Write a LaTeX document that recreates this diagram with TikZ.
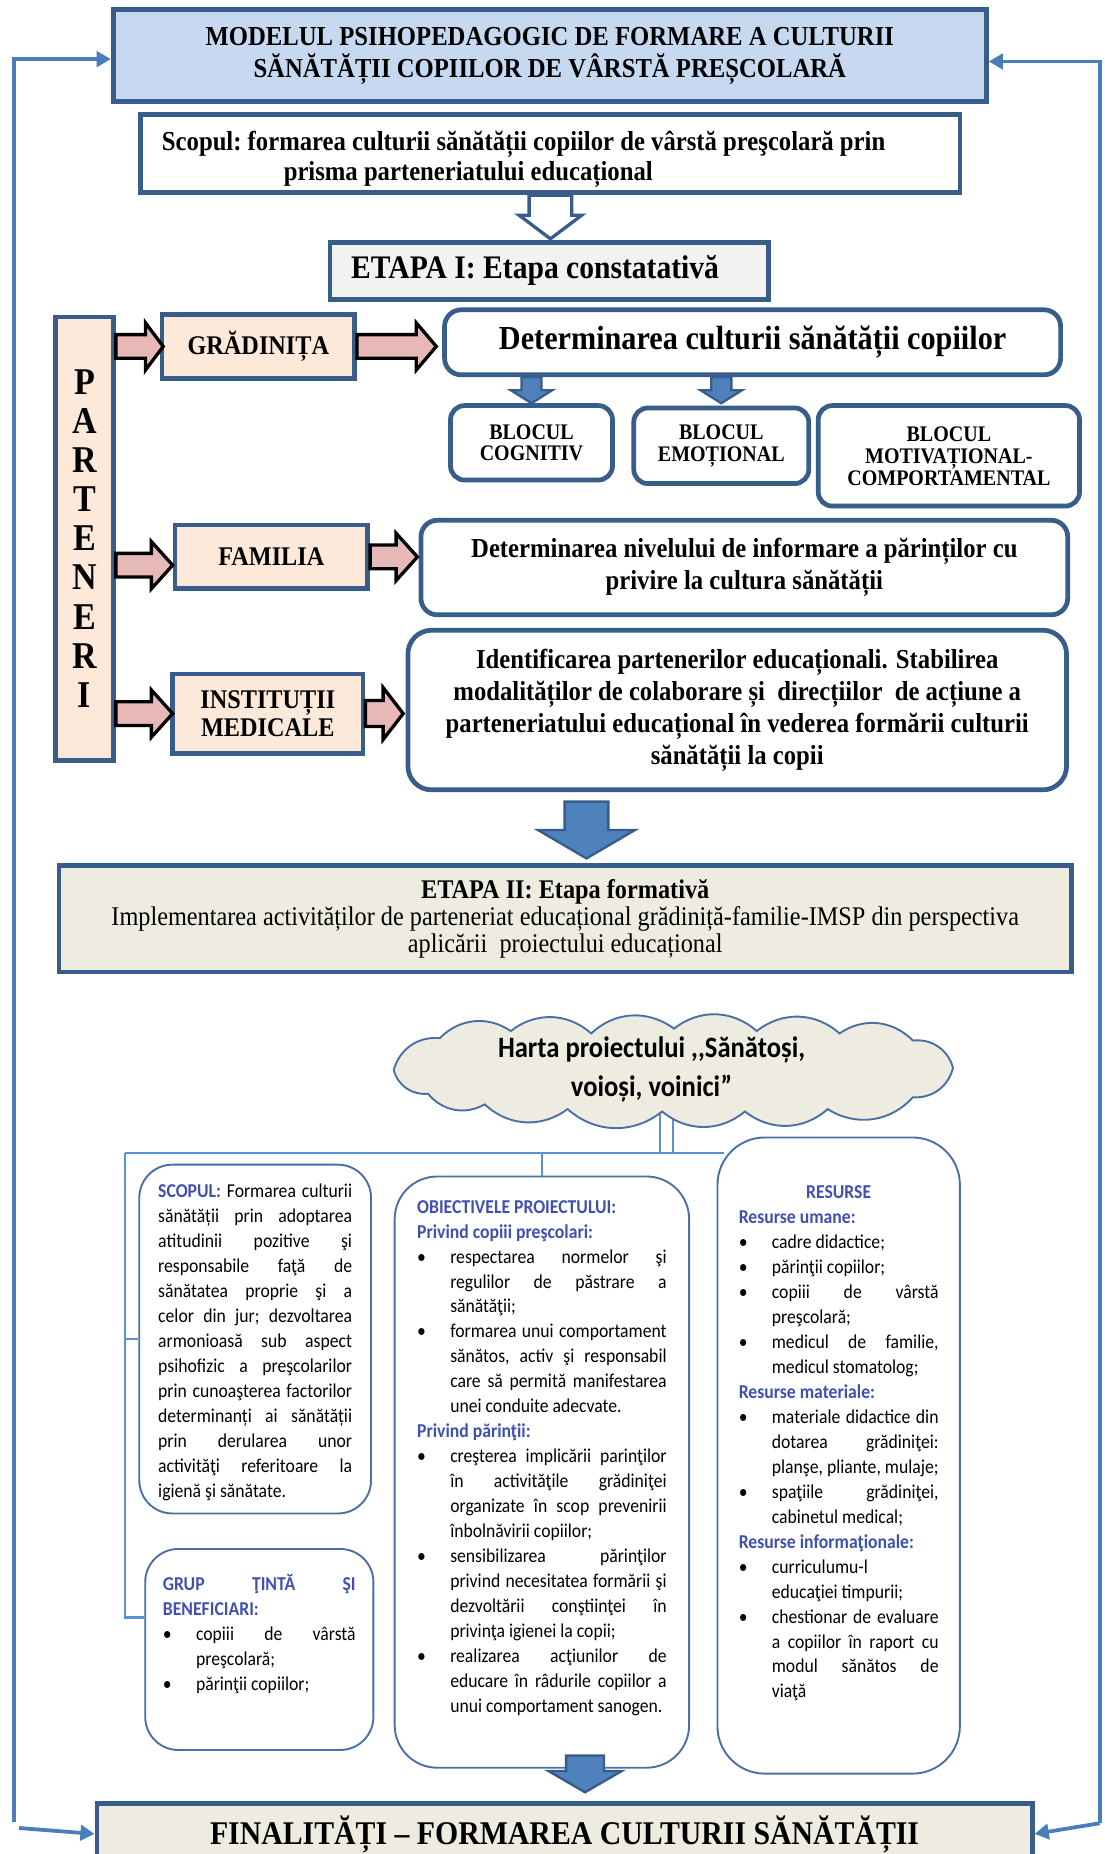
\documentclass[tikz,border=0pt]{standalone}
\usepackage{fontspec}
\setmainfont{Liberation Serif}[FakeStretch=0.9]
\newfontfamily\carlito{Carlito}[FakeStretch=0.9]
\usetikzlibrary{arrows.meta,calc,backgrounds}

\definecolor{dkblue}{HTML}{385D8A}
\definecolor{ttlfill}{HTML}{C6D9F1}
\definecolor{grayfill}{HTML}{F2F2F2}
\definecolor{peach}{HTML}{FDE9D9}
\definecolor{pinkfill}{HTML}{E6B9B8}
\definecolor{beige}{HTML}{EEECE1}
\definecolor{midblue}{HTML}{4F81BD}
\definecolor{softblue}{HTML}{4A6FA5}
\definecolor{linkblue}{HTML}{5B8FD6}
\definecolor{fbblue}{HTML}{4A7EBB}
\definecolor{txtblue}{HTML}{4050B0}

% block arrows: style, tail point, shaft half, shaft length, head half, head length
\newcommand{\blockright}[6]{\draw[#1, shift={(#2)}] (0,-#3) -- (#4,-#3) -- (#4,-#5) -- (#4+#6,0) -- (#4,#5) -- (#4,#3) -- (0,#3) -- cycle;}
\newcommand{\blockdown}[6]{\draw[#1, shift={(#2)}] (-#3,0) -- (-#3,#4) -- (-#5,#4) -- (0,#4+#6) -- (#5,#4) -- (#3,#4) -- (#3,0) -- cycle;}

% justified lines and bullets for the project map
\newlength{\bulletind}
\setlength{\bulletind}{14pt}
\newcommand{\natsp}{\frenchspacing\spaceskip=0pt\xspaceskip=0pt\relax}
\newcommand{\jline}[1]{\makebox[\linewidth][s]{#1}}
\newcommand{\bitem}[2][s]{\makebox[\bulletind][l]{\textbullet}\makebox[\dimexpr\linewidth-\bulletind\relax][#1]{#2}}
\newcommand{\bcont}[2][s]{\hspace*{\bulletind}\makebox[\dimexpr\linewidth-\bulletind\relax][#1]{#2}}
\newcommand{\hdr}[1]{\textcolor{txtblue}{\bfseries #1}}

\begin{document}
\begin{tikzpicture}
        [x=0.5pt, y=-0.5pt,
        frame/.style={draw=dkblue, line width=2pt, inner sep=0pt, align=center},
        rframe/.style={frame, rounded corners=7pt},
        partner/.style={frame, fill=peach, minimum width=81.5pt, minimum height=27pt, font=\fontsize{11.4}{12}\selectfont\bfseries},
        block/.style={rframe, rounded corners=6pt, font=\fontsize{9.4}{9.3}\selectfont\bfseries},
        bigtext/.style={font=\fontsize{11.6}{13.5}\selectfont\bfseries},
        soft/.style={draw=softblue, line width=0.8pt, fill=white, rounded corners=14pt, anchor=base west, inner ysep=0pt, align=left, execute at begin node=\natsp, font=\carlito\fontsize{8.3}{10.55}\selectfont},
        cloudline/.style={draw=softblue, fill=beige, line width=0.8pt},
        link/.style={draw=linkblue, line width=0.9pt},
        fback/.style={draw=fbblue, line width=1.6pt, -{Triangle[length=6pt, width=6.5pt]}},
        pinkarr/.style={fill=pinkfill, draw=black, line width=1.4pt},
        bluearr/.style={fill=midblue, draw=dkblue, line width=1pt},
        hollowarr/.style={fill=white, draw=dkblue, line width=1.4pt}]

        \begin{pgfonlayer}{background}
          \fill[white] (0,0) rectangle (934,1568);
        \end{pgfonlayer}
        \path[use as bounding box] (0,0) rectangle (934,1568);

        % stage I
        \node[frame, fill=ttlfill, line width=2.2pt, minimum width=369pt, minimum height=39pt, bigtext] (title) at (465,47) {MODELUL PSIHOPEDAGOGIC DE FORMARE A CULTURII\\SĂNĂTĂȚII COPIILOR DE VÂRSTĂ PREȘCOLARĂ};
        \node[frame, anchor=base west, text width=328.5pt, inner xsep=9pt, text height=15pt, text depth=18pt, align=left, execute at begin node=\natsp, font=\fontsize{11.6}{13}\selectfont\bfseries] (scop) at (117,127) {Scopul: formarea culturii sănătății copiilor de vârstă preşcolară prin\\\hspace*{51.5pt}prisma parteneriatului educațional};
        \node[frame, fill=grayfill, text width=167.5pt, inner xsep=9pt, minimum height=24pt, align=left, execute at begin node=\natsp, font=\fontsize{13.9}{15}\selectfont\bfseries] (etapa1) at (464.5,229) {ETAPA I: Etapa constatativă};

        \node[frame, fill=peach, minimum width=24.5pt, minimum height=187.5pt, font=\fontsize{16}{16.5}\selectfont\bfseries] (parteneri) at (71.5,455.5) {P\\A\\R\\T\\E\\N\\E\\R\\I};
        \node[partner] (gradinita) at (218.5,293) {GRĂDINIȚA};
        \node[partner] (familia) at (229.5,471) {FAMILIA};
        \node[partner, minimum width=80.5pt, minimum height=33.5pt] (institutii) at (226.5,603.5) {INSTITUȚII\\MEDICALE};

        \node[rframe, minimum width=260.5pt, minimum height=27.5pt, font=\fontsize{14.2}{16}\selectfont\bfseries] (det) at (636.5,289.5) {Determinarea culturii sănătății copiilor};
        \node[block, minimum width=68.5pt, minimum height=31.5pt] (cognitiv) at (449.5,374.5) {BLOCUL\\COGNITIV};
        \node[block, minimum width=74pt, minimum height=32pt] (emotional) at (610,377) {BLOCUL\\EMOȚIONAL};
        \node[block, minimum width=110.5pt, minimum height=42.5pt] (motivational) at (802.5,385.5) {BLOCUL\\MOTIVAȚIONAL-\\COMPORTAMENTAL};
        \node[rframe, minimum width=273.5pt, minimum height=40pt, bigtext] (nivel) at (629.5,480) {Determinarea nivelului de informare a părinților cu\\privire la cultura sănătății};
        \node[rframe, rounded corners=10pt, minimum width=278.5pt, minimum height=67.5pt, bigtext] (identif) at (623.5,600.5) {Identificarea partenerilor educaționali. Stabilirea\\modalităților de colaborare și\ \ direcțiilor\ \ de acțiune a\\parteneriatului educațional în vederea formării culturii\\sănătății la copii};

        % stage II
        \node[frame, fill=beige, minimum width=428pt, minimum height=45pt, font=\fontsize{11.4}{11.5}\selectfont] (etapa2) at (478,777) {\textbf{ETAPA II: Etapa formativă}\\Implementarea activităților de parteneriat educațional grădiniță-familie-IMSP din perspectiva\\aplicării\ \ proiectului educațional};

        % project map
        \coordinate (cloudc) at (569,904);
        \draw[cloudline] (333,905) foreach \x/\y in {372/878, 432/872, 500/874, 570/870, 640/872, 710/874, 772/880, 806/903, 772/928, 700/938, 630/940, 560/940, 480/938, 410/934, 362/925, 333/905} { to[bend left=40] (\x,\y) } -- cycle;
        \node[font=\carlito\fontsize{12.5}{16.5}\selectfont\bfseries, align=center] (harta) at (551,904) {Harta proiectului ,,Sănătoși,\\voioși, voinici”};

        \node[soft, text width=82pt, inner xsep=8pt, text height=14pt, text depth=133.5pt] (scopul) at (117,1013) {%
        \jline{\hdr{SCOPUL:} Formarea culturii}\\
        \jline{sănătății prin adoptarea}\\
        \jline{atitudinii pozitive şi}\\
        \jline{responsabile faţă de}\\
        \jline{sănătatea proprie şi a}\\
        \jline{celor din jur; dezvoltarea}\\
        \jline{armonioasă sub aspect}\\
        \jline{psihofizic a preşcolarilor}\\
        \jline{prin cunoaşterea factorilor}\\
        \jline{determinanți ai sănătății}\\
        \jline{prin derularea unor}\\
        \jline{activităţi referitoare la}\\
        igienă şi sănătate.};
        \node[soft, text width=81.5pt, inner xsep=7.5pt, text height=17.5pt, text depth=67.5pt] (grup) at (122,1345) {%
        \jline{\hdr{GRUP ŢINTĂ ŞI}}\\
        \hdr{BENEFICIARI:}\\
        \bitem{copiii de vârstă}\\
        \bcont[l]{preşcolară;}\\
        \bitem[l]{părinţii copiilor;}};
        \node[soft, rounded corners=18pt, text width=105.5pt, inner xsep=9.5pt, text height=15.5pt, text depth=234.5pt] (obiective) at (333,1026) {%
        \hdr{OBIECTIVELE PROIECTULUI:}\\
        \hdr{Privind copiii preşcolari:}\\
        \bitem{respectarea normelor şi}\\
        \bcont{regulilor de păstrare a}\\
        \bcont[l]{sănătăţii;}\\
        \bitem{formarea unui comportament}\\
        \bcont{sănătos, activ şi responsabil}\\
        \bcont{care să permită manifestarea}\\
        \bcont[l]{unei conduite adecvate.}\\
        \hdr{Privind părinţii:}\\
        \bitem{creşterea implicării parinţilor}\\
        \bcont{în activităţile grădiniţei}\\
        \bcont{organizate în scop prevenirii}\\
        \bcont[l]{înbolnăvirii copiilor;}\\
        \bitem{sensibilizarea părinţilor}\\
        \bcont{privind necesitatea formării şi}\\
        \bcont{dezvoltării conştiinţei în}\\
        \bcont[l]{privinţa igienei la copii;}\\
        \bitem{realizarea acţiunilor de}\\
        \bcont{educare în râdurile copiilor a}\\
        \bcont[l]{unui comportament sanogen.}};
        \node[soft, rounded corners=20pt, text width=84.5pt, inner xsep=9pt, text height=26pt, text depth=243pt] (resurse) at (606,1014) {%
        \makebox[\linewidth][c]{\hdr{RESURSE}}\\
        \hdr{Resurse umane:}\\
        \bitem[l]{cadre didactice;}\\
        \bitem[l]{părinţii copiilor;}\\
        \bitem{copiii de vârstă}\\
        \bcont[l]{preşcolară;}\\
        \bitem{medicul de familie,}\\
        \bcont[l]{medicul stomatolog;}\\
        \hdr{Resurse materiale:}\\
        \bitem{materiale didactice din}\\
        \bcont{dotarea grădiniţei:}\\
        \bcont{planşe, pliante, mulaje;}\\
        \bitem{spaţiile grădiniţei,}\\
        \bcont[l]{cabinetul medical;}\\
        \hdr{Resurse informaţionale:}\\
        \bitem[l]{curriculumu-l}\\
        \bcont[l]{educaţiei timpurii;}\\
        \bitem{chestionar de evaluare}\\
        \bcont{a copiilor în raport cu}\\
        \bcont{modul sănătos de}\\
        \bcont[l]{viaţă}};

        \node[frame, fill=beige, minimum width=395.5pt, minimum height=26pt, font=\fontsize{14}{15}\selectfont\bfseries] (final) at (477.5,1551) {FINALITĂȚI – FORMAREA CULTURII SĂNĂTĂȚII};

        % map connectors
        \coordinate (hub) at (563,975);
        \coordinate (lcorner) at (106,975);
        \begin{pgfonlayer}{background}
          \draw[link] ([xshift=-5.5pt]cloudc) -- ([xshift=-5.5pt]cloudc |- hub);
          \draw[link] (cloudc) -- (cloudc |- hub);
        \end{pgfonlayer}
        \draw[link] (lcorner) -- ([xshift=3pt]resurse.west |- hub);
        \draw[link] (lcorner) |- ([yshift=13.5pt]grup.west);
        \draw[link] (lcorner |- scopul.west) -- (scopul.west);
        \draw[link] (obiective.north |- hub) -- (obiective.north);

        % block arrows
        \blockdown{hollowarr}{scop.south}{18}{17}{26.5}{20}
        \blockright{pinkarr}{parteneri.east |- gradinita.west}{10}{25}{20}{15}
        \blockright{pinkarr}{gradinita.east}{10}{50}{20}{17}
        \blockright{pinkarr}{$(parteneri.east |- familia.west)+(0,7)$}{10}{30}{20}{18}
        \blockright{pinkarr}{familia.east}{10}{22}{20}{18}
        \blockright{pinkarr}{parteneri.east |- institutii.west}{10}{30}{20}{18}
        \blockright{pinkarr}{institutii.east}{11}{15}{22}{17}
        \blockdown{bluearr}{cognitiv.north |- det.south}{8.5}{11}{17.5}{11}
        \blockdown{bluearr}{emotional.north |- det.south}{8.5}{11}{17.5}{11}
        \blockdown{bluearr}{$(identif.south)+(-127.5,8)$}{18.5}{24}{41}{24}
        \blockdown{bluearr}{$(obiective.south)+(36.5,-11)$}{16}{13}{31}{18}

        % feedback lines
        \coordinate (ltop) at (12,50);
        \coordinate (lbot) at (12,1541);
        \coordinate (lfoot) at (16,1546);
        \coordinate (rtop) at (930,52);
        \coordinate (rbot) at (930,1542);
        \draw[fback] (lbot) -- (ltop) -- (title.west |- ltop);
        \draw[fback] (rbot) -- (rtop) -- (title.east |- rtop);
        \draw[fback] (lfoot) -- (final.west);
        \draw[fback] (rbot) -- (final.east);

    \end{tikzpicture}
\end{document}
